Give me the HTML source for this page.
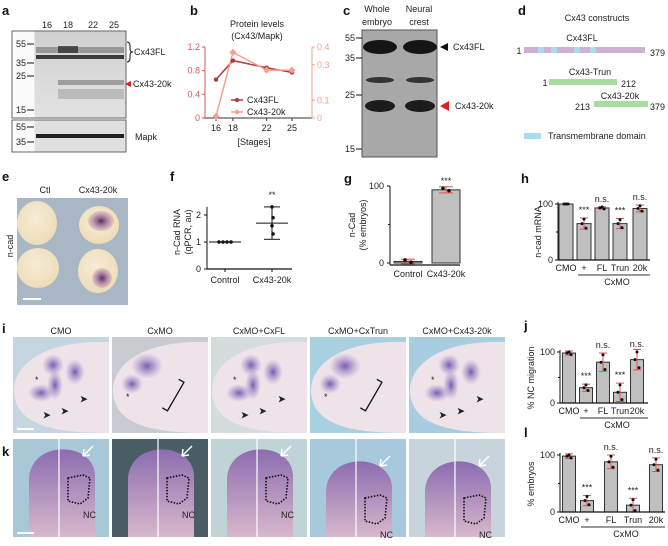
<!DOCTYPE html>
<html><head><meta charset="utf-8"><style>
body{margin:0;background:#fff}
svg{display:block;font-family:"Liberation Sans",sans-serif}
.t{font-size:9px;fill:#222}
.lb{font-size:13px;font-weight:bold;fill:#111}
</style></head><body>
<svg id="fig" width="668" height="546" viewBox="0 0 668 546">
<defs>
<linearGradient id="blotg" x1="0" y1="0" x2="0" y2="1"><stop offset="0" stop-color="#d0d0d0"/><stop offset="1" stop-color="#e2e2e2"/></linearGradient>
<radialGradient id="emb" cx="0.45" cy="0.4" r="0.6"><stop offset="0" stop-color="#f7ecd6"/><stop offset="1" stop-color="#eddcb8"/></radialGradient>
<radialGradient id="purp" cx="0.5" cy="0.5" r="0.5"><stop offset="0" stop-color="#5a2a6a"/><stop offset="1" stop-color="#a0609a" stop-opacity="0.2"/></radialGradient>
<radialGradient id="blob" cx="0.5" cy="0.5" r="0.5"><stop offset="0" stop-color="#7a5cb0"/><stop offset="1" stop-color="#9a86c8" stop-opacity="0"/></radialGradient>
<linearGradient id="kemb" x1="0" y1="0" x2="0" y2="1"><stop offset="0" stop-color="#8c6cb0"/><stop offset="1" stop-color="#d8b8cc"/></linearGradient>
</defs>

<g>
<text class="lb" x="2" y="15">a</text>
<text class="t" x="47" y="28" text-anchor="middle">16</text>
<text class="t" x="68" y="28" text-anchor="middle">18</text>
<text class="t" x="93" y="28" text-anchor="middle">22</text>
<text class="t" x="114" y="28" text-anchor="middle">25</text>
<rect x="12" y="31" width="114" height="87" fill="url(#blotg)" stroke="#666"/>
<rect x="12.5" y="31.5" width="22" height="86" fill="#fafafa"/>
<rect x="36" y="47" width="88" height="6" fill="#707070" opacity="0.6"/>
<rect x="58" y="46" width="20" height="7" fill="#222" opacity="0.7"/>
<rect x="36" y="55" width="88" height="4" fill="#222" opacity="0.85"/>
<rect x="58" y="80" width="66" height="5" fill="#777" opacity="0.6"/>
<rect x="58" y="89" width="66" height="10" fill="#999" opacity="0.5"/>
<g class="t" font-size="8"><text x="16" y="47">55</text><text x="16" y="66">35</text><text x="16" y="79">25</text><text x="16" y="113">15</text></g>
<path d="M27 44h7M27 63h7M27 76h7M27 110h7" stroke="#111"/>
<path d="M127 42q3 0 3 4v3q0 3 3 3q-3 0-3 3v3q0 4-3 4" fill="none" stroke="#111"/>
<text class="t" x="134" y="55">Cx43FL</text>
<path d="M131 81l-6 3 6 3z" fill="#e02020"/>
<text class="t" x="133" y="87">Cx43-20k</text>
<rect x="12" y="120" width="114" height="32" fill="#e0e0e0" stroke="#666"/>
<rect x="12.5" y="120.5" width="22" height="31" fill="#fafafa"/>
<rect x="36" y="134" width="88" height="4" fill="#222"/>
<g class="t" font-size="8"><text x="16" y="130">55</text><text x="16" y="145">35</text></g>
<path d="M27 127h7M27 142h7" stroke="#111"/>
<text class="t" x="135" y="140">Mapk</text>
</g>

<g id="chartB">
<text class="lb" x="190" y="15">b</text>
<text class="t" x="257" y="27" text-anchor="middle">Protein levels</text>
<text class="t" x="257" y="39" text-anchor="middle">(Cx43/Mapk)</text>
<text class="t" x="254" y="145" text-anchor="middle">[Stages]</text>
</g>

<g>
<text class="lb" x="343" y="15">c</text>
<text class="t" x="377" y="12" text-anchor="middle">Whole</text>
<text class="t" x="377" y="25" text-anchor="middle">embryo</text>
<text class="t" x="419" y="12" text-anchor="middle">Neural</text>
<text class="t" x="419" y="25" text-anchor="middle">crest</text>
<rect x="362" y="30" width="75" height="127" fill="#a8a8a8" stroke="#555"/>
<ellipse cx="380" cy="47" rx="17" ry="7" fill="#151515"/>
<ellipse cx="420" cy="47" rx="17" ry="7" fill="#151515"/>
<ellipse cx="380" cy="80" rx="14" ry="3" fill="#333"/>
<ellipse cx="420" cy="80" rx="14" ry="3" fill="#333"/>
<ellipse cx="380" cy="106" rx="15" ry="6" fill="#1c1c1c"/>
<ellipse cx="420" cy="106" rx="15" ry="6" fill="#1c1c1c"/>
<g class="t" font-size="8"><text x="345" y="41">55</text><text x="345" y="61">35</text><text x="345" y="98">25</text><text x="345" y="152">15</text></g>
<path d="M356 38h6M356 58h6M356 95h6M356 149h6" stroke="#111"/>
<path d="M448 43l-8 4 8 4z" fill="#111"/>
<text class="t" x="453" y="50">Cx43FL</text>
<path d="M449 101l-9 5 9 5z" fill="#e02020"/>
<text class="t" x="455" y="109">Cx43-20k</text>
</g>

<g>
<text class="lb" x="518" y="15">d</text>
<text class="t" x="597" y="21" text-anchor="middle">Cx43 constructs</text>
<text class="t" x="582" y="41" text-anchor="middle">Cx43FL</text>
<rect x="524" y="47" width="121" height="6" fill="#cfb0d4"/>
<rect x="538" y="47" width="6" height="6" fill="#a8dcef"/><rect x="551" y="47" width="6" height="6" fill="#a8dcef"/><rect x="574" y="47" width="6" height="6" fill="#a8dcef"/><rect x="590" y="47" width="6" height="6" fill="#a8dcef"/>
<text class="t" x="519" y="54" text-anchor="middle">1</text><text class="t" x="650" y="56">379</text>
<text class="t" x="590" y="75" text-anchor="middle">Cx43-Trun</text>
<rect x="549" y="79" width="68" height="6" fill="#a8dca0"/>
<text class="t" x="545" y="86" text-anchor="middle">1</text><text class="t" x="621" y="87">212</text>
<text class="t" x="620" y="99" text-anchor="middle">Cx43-20k</text>
<rect x="594" y="101" width="54" height="6" fill="#a8dca0"/>
<text class="t" x="575" y="110">213</text><text class="t" x="650" y="110">379</text>
<rect x="524" y="133" width="17" height="6" fill="#a8dcef"/>
<text class="t" x="548" y="139">Transmembrane  domain</text>
</g>

<g>
<text class="lb" x="2" y="181">e</text>
<text class="t" x="45" y="193" text-anchor="middle">Ctl</text>
<text class="t" x="98" y="193" text-anchor="middle">Cx43-20k</text>
<text class="t" x="0" y="0" transform="translate(13,246) rotate(-90)" text-anchor="middle">n-cad</text>
<rect x="17" y="198" width="111" height="107" fill="#a9b6c4"/>
<ellipse cx="37" cy="223" rx="20" ry="22" fill="url(#emb)"/>
<ellipse cx="99" cy="225" rx="20" ry="19" fill="url(#emb)"/>
<ellipse cx="101" cy="221" rx="13" ry="10" fill="url(#purp)"/>
<ellipse cx="38" cy="268" rx="21" ry="20" fill="url(#emb)"/>
<ellipse cx="98" cy="271" rx="20" ry="22" fill="url(#emb)"/>
<ellipse cx="102" cy="278" rx="10" ry="10" fill="url(#purp)"/>
<rect x="23" y="298" width="18" height="2" fill="#fff"/>
</g>

<g id="chartF">
<text class="lb" x="170" y="181">f</text>
<text class="t" x="0" y="0" transform="translate(180,232) rotate(-90)" text-anchor="middle">n-Cad RNA</text>
<text class="t" x="0" y="0" transform="translate(191,232) rotate(-90)" text-anchor="middle">(qPCR, au)</text>
</g>

<g id="chartG">
<text class="lb" x="344" y="183">g</text>
<text class="t" x="0" y="0" transform="translate(355,225) rotate(-90)" text-anchor="middle">n-Cad</text>
<text class="t" x="0" y="0" transform="translate(366,225) rotate(-90)" text-anchor="middle">(% embryos)</text>
</g>

<g id="chartH">
<text class="lb" x="521" y="183">h</text>
<text class="t" x="0" y="0" transform="translate(541,232) rotate(-90)" text-anchor="middle">n-cad mRNA</text>
</g>

<g id="panelI">
<text class="lb" x="2" y="333">i</text>
</g>
<g id="panelK">
<text class="lb" x="2" y="456">k</text>
</g>

<g id="chartJ">
<text class="lb" x="524" y="330">j</text>
<text class="t" x="0" y="0" transform="translate(534,378) rotate(-90)" text-anchor="middle">% NC migration</text>
</g>
<g id="chartL">
<text class="lb" x="524" y="437">l</text>
<text class="t" x="0" y="0" transform="translate(534,484) rotate(-90)" text-anchor="middle">% embryos</text>
</g>
</svg>
<script>
const NS="http://www.w3.org/2000/svg";
function mk(parent,tag,attrs,txt){const e=document.createElementNS(NS,tag);for(const k in attrs)e.setAttribute(k,attrs[k]);if(txt!==undefined)e.textContent=txt;parent.appendChild(e);return e;}

const bStages=[16,18,22,25];
const bFL=[0.65,0.97,0.85,0.77];
const b20k=[0.01,0.37,0.27,0.27];
const bLeftTicks=[0,0.4,0.8,1.2];
const bRightTicks=[0,0.1,0.3,0.4];
const fCats=["Control","Cx43-20k"];
const fCtrl=[1,1,1,1];
const f20k=[2.3,1.9,1.6,1.3];
const fMean=[1,1.7];
const fErr=[0,0.6];
const fTicks=[0,1,2];
const gCats=["Control","Cx43-20k"];
const gVals=[2,95];
const gErr=[3,4];
const gTicks=[0,100];
const hCats=["CMO","+","FL","Trun","20k"];
const hVals=[100,65,93,65,92];
const hErr=[0,10,2,9,6];
const hSig=["","***","n.s.","***","n.s."];
const jCats=["CMO","+","FL","Trun","20k"];
const jVals=[98,30,80,21,85];
const jErr=[4,7,18,18,20];
const jSig=["","***","n.s.","***","n.s."];
const lCats=["CMO","+","FL","Trun","20k"];
const lVals=[98,20,88,12,83];
const lErr=[4,9,12,12,12];
const lSig=["","***","n.s.","***","n.s."];

(function(){
const g=document.getElementById('chartB');
const x0=205,x1=312,y0=118,y1=47;
const xs=s=>216+(s-16)*(292-216)/9;
const yl=v=>y0-(v/1.2)*(y0-y1);
const yr=v=>y0-(v/0.4)*(y0-y1);
const cL="#d0595c",cR="#f2a090",cFL="#b3363b",c20="#f4a08e";
mk(g,'line',{x1:x0,y1:y0,x2:x1,y2:y0,stroke:'#333'});
mk(g,'line',{x1:x0,y1:y1,x2:x0,y2:y0,stroke:cL});
mk(g,'line',{x1:x1,y1:y1,x2:x1,y2:y0,stroke:cR});
bLeftTicks.forEach(v=>{mk(g,'line',{x1:x0-3,y1:yl(v),x2:x0,y2:yl(v),stroke:cL});const t=mk(g,'text',{x:x0-5,y:yl(v)+3,'text-anchor':'end',class:'t',style:'fill:'+cL},v);

});
bRightTicks.forEach(v=>{mk(g,'line',{x1:x1,y1:yr(v),x2:x1+3,y2:yr(v),stroke:cR});const t=mk(g,'text',{x:x1+5,y:yr(v)+3,class:'t',style:'fill:'+cR},v);

});
bStages.forEach(s=>{mk(g,'line',{x1:xs(s),y1:y0,x2:xs(s),y2:y0+3,stroke:'#333'});mk(g,'text',{x:xs(s),y:y0+13,'text-anchor':'middle',class:'t'},s);});
const pl=mk(g,'polyline',{points:bStages.map((s,i)=>xs(s)+','+yl(bFL[i])).join(' '),fill:'none',stroke:cFL,'stroke-width':1.5});


const pr=mk(g,'polyline',{points:bStages.map((s,i)=>xs(s)+','+yr(b20k[i])).join(' '),fill:'none',stroke:c20,'stroke-width':1.5});


bStages.forEach((s,i)=>{const p=mk(g,'circle',{cx:xs(s),cy:yl(bFL[i]),r:2.2,fill:cFL});


const q=mk(g,'rect',{x:xs(s)-2.5,y:yr(b20k[i])-2.5,width:5,height:5,fill:c20,transform:`rotate(45 ${xs(s)} ${yr(b20k[i])})`});

});
mk(g,'line',{x1:231,y1:100,x2:243,y2:100,stroke:cFL,'stroke-width':1.5});mk(g,'circle',{cx:237,cy:100,r:2,fill:cFL});
mk(g,'text',{x:247,y:103,class:'t'},'Cx43FL');
mk(g,'line',{x1:231,y1:112,x2:243,y2:112,stroke:c20,'stroke-width':1.5});mk(g,'rect',{x:235,y:110,width:4,height:4,fill:c20,transform:'rotate(45 237 112)'});
mk(g,'text',{x:247,y:115,class:'t'},'Cx43-20k');
})();

(function(){
const g=document.getElementById('chartF');
const x0=207,x1=292,y0=269,yTop=215;
const y=v=>y0-v*(y0-yTop)/2;
const xc=[225,272];
mk(g,'line',{x1:x0,y1:y0,x2:x1,y2:y0,stroke:'#111','stroke-width':1.2});
mk(g,'line',{x1:x0,y1:y(2.3),x2:x0,y2:y0,stroke:'#111'});
fTicks.forEach(v=>{mk(g,'line',{x1:x0-3,y1:y(v),x2:x0,y2:y(v),stroke:'#111'});mk(g,'text',{x:x0-6,y:y(v)+3,'text-anchor':'end',class:'t'},v);});
fCats.forEach((c,i)=>{mk(g,'line',{x1:xc[i],y1:y0,x2:xc[i],y2:y0+3,stroke:'#111'});mk(g,'text',{x:xc[i],y:y0+14,'text-anchor':'middle',class:'t'},c);});
[fCtrl,f20k].forEach((arr,i)=>{
 arr.forEach((v,j)=>{const d=mk(g,'circle',{cx:i==0?xc[i]-6+j*4:xc[i]+(j%2?1:0),cy:y(v),r:1.8,fill:'#111'});
 
 });
 mk(g,'line',{x1:xc[i]-16,y1:y(fMean[i]),x2:xc[i]+16,y2:y(fMean[i]),stroke:'#111'});
 if(fErr[i]>0){mk(g,'line',{x1:xc[i],y1:y(fMean[i]-fErr[i]),x2:xc[i],y2:y(fMean[i]+fErr[i]),stroke:'#111'});
 [fMean[i]-fErr[i],fMean[i]+fErr[i]].forEach(v=>mk(g,'line',{x1:xc[i]-8,y1:y(v),x2:xc[i]+8,y2:y(v),stroke:'#111'}));}
});
mk(g,'text',{x:272,y:198,'text-anchor':'middle',class:'t'},'**');
})();

(function(){
const g=document.getElementById('chartG');
const x0=390,x1=460,y0=263,yTop=186;
const y=v=>y0-v*(y0-yTop)/100;
const xc=[408,446],bw=28;
gVals.forEach((v,i)=>{const r=mk(g,'rect',{x:xc[i]-bw/2,y:y(v),width:bw,height:y0-y(v),fill:'#c0c0c0',stroke:'#333'});
 
 
 mk(g,'line',{x1:xc[i],y1:y(v-gErr[i]),x2:xc[i],y2:y(v+gErr[i]),stroke:'#e05050'});
 [v-gErr[i],v+gErr[i]].forEach(w=>mk(g,'line',{x1:xc[i]-7,y1:y(w),x2:xc[i]+7,y2:y(w),stroke:'#e05050'}));
 mk(g,'circle',{cx:xc[i]-3,cy:y(v+2),r:1.8,fill:'#111'});mk(g,'circle',{cx:xc[i]+3,cy:y(v-1),r:1.8,fill:'#111'});
 mk(g,'text',{x:xc[i],y:y0+14,'text-anchor':'middle',class:'t'},gCats[i]);});
mk(g,'line',{x1:x0,y1:y0+2,x2:x1,y2:y0+2,stroke:'#111','stroke-width':1.2});
mk(g,'line',{x1:x0,y1:yTop,x2:x0,y2:y0+2,stroke:'#111'});
gTicks.forEach(v=>{mk(g,'line',{x1:x0-3,y1:y(v),x2:x0,y2:y(v),stroke:'#111'});mk(g,'text',{x:x0-6,y:y(v)+3,'text-anchor':'end',class:'t'},v);});
mk(g,'line',{x1:x0-2,y1:y(50),x2:x0,y2:y(50),stroke:'#111'});
mk(g,'text',{x:446,y:184,'text-anchor':'middle',class:'t','font-size':'7'},'***');
})();

function barChart(id,cats,vals,errs,sig,x0,xc,bw,y0,yTop,xEnd){
 const g=document.getElementById(id);
 const y=v=>y0-v*(y0-yTop)/100;
 const labY=y0+11;
 vals.forEach((v,i)=>{const r=mk(g,'rect',{x:xc[i]-bw/2,y:y(v),width:bw,height:y0-y(v),fill:'#c0c0c0',stroke:'#333'});
  
  
  if(errs[i]>0){mk(g,'line',{x1:xc[i],y1:y(v-errs[i]),x2:xc[i],y2:y(v+errs[i]),stroke:'#e05050'});
  [v-errs[i],v+errs[i]].forEach(w=>mk(g,'line',{x1:xc[i]-4,y1:y(w),x2:xc[i]+4,y2:y(w),stroke:'#e05050'}));}
  mk(g,'circle',{cx:xc[i],cy:y(Math.min(100,v+errs[i]*0.8)),r:1.5,fill:'#111'});
  mk(g,'circle',{cx:xc[i]-2,cy:y(v),r:1.5,fill:'#111'});
  mk(g,'circle',{cx:xc[i]+2,cy:y(Math.max(0,v-errs[i]*0.8)),r:1.5,fill:'#111'});
  if(sig[i])mk(g,'text',{x:xc[i],y:y(Math.min(100,v+errs[i]))-5,'text-anchor':'middle',class:'t','font-size':sig[i]=='***'?'7':'8'},sig[i]);
  mk(g,'text',{x:xc[i],y:labY,'text-anchor':'middle',class:'t'},cats[i]);
 });
 mk(g,'line',{x1:x0,y1:y0,x2:xEnd,y2:y0,stroke:'#111','stroke-width':1.2});
 mk(g,'line',{x1:x0,y1:yTop-2,x2:x0,y2:y0,stroke:'#111'});
 [0,100].forEach(v=>{mk(g,'line',{x1:x0-3,y1:y(v),x2:x0,y2:y(v),stroke:'#111'});mk(g,'text',{x:x0-5,y:y(v)+3,'text-anchor':'end',class:'t'},v);});
 mk(g,'line',{x1:x0-2,y1:y(50),x2:x0,y2:y(50),stroke:'#111'});
 mk(g,'line',{x1:xc[1]-6,y1:labY+4,x2:xEnd,y2:labY+4,stroke:'#333'});
 mk(g,'text',{x:(xc[1]+xEnd)/2,y:labY+14,'text-anchor':'middle',class:'t'},'CxMO');
}
barChart('chartH',hCats,hVals,hErr,hSig,558,[566,584,602,620,640],14,260,204,650);
barChart('chartJ',jCats,jVals,jErr,jSig,560,[569,586,603,620,637],13,403,352,648);
barChart('chartL',lCats,lVals,lErr,lSig,560,[569,587,611,633,656],13,512,455,665);

(function(){
const g=document.getElementById('panelI');
const xs=[13,112,211,310,409],w=96;
const titles=["CMO","CxMO","CxMO+CxFL","CxMO+CxTrun","CxMO+Cx43-20k"];
const bgs=["#c4d6e0","#c8ccd2","#d4dcdc","#a8d0e0","#a8cce0"];
titles.forEach((t,i)=>{
 const x=xs[i];
 mk(g,'text',{x:x+w/2,y:334,'text-anchor':'middle',class:'t'},t);
 const r=mk(g,'rect',{x:x,y:337,width:w,height:96,fill:bgs[i]});
 
 
 mk(g,'path',{d:`M${x+w} 342C${x+30} 340 ${x} 365 ${x+1} 392C${x+3} 425 ${x+40} 433 ${x+w} 433Z`,fill:'#efe3ea'});
 if(i==1||i==3){mk(g,'ellipse',{cx:x+35,cy:366,rx:16,ry:13,fill:'url(#blob)'});mk(g,'ellipse',{cx:x+20,cy:384,rx:11,ry:10,fill:'url(#blob)'});
  mk(g,'path',{d:`M${x+58} ${378}h6v33h-6`,fill:'none',stroke:'#111','stroke-width':1.3,transform:`rotate(30 ${x+60} ${395})`});
  mk(g,'text',{x:x+14,y:400,class:'t','font-size':'12'},'*');}
 else{[[28,393,13,9],[42,385,8,15],[62,372,10,13],[40,365,11,11]].forEach(b=>mk(g,'ellipse',{cx:x+b[0],cy:b[1],rx:b[2],ry:b[3],fill:'url(#blob)'}));
  mk(g,'text',{x:x+22,y:383,class:'t','font-size':'12'},'*');
  [[30,418],[48,414],[67,402]].forEach(a=>mk(g,'text',{x:x+a[0],y:a[1],class:'t','font-size':'11','font-weight':'bold'},'➤'));}
});
mk(g,'rect',{x:17,y:428,width:17,height:2,fill:'#fff'});
})();

(function(){
const g=document.getElementById('panelK');
const xs=[13,112,211,310,409],w=96;
const bgs=["#a8c8d8","#4a5c64","#c0d4d8","#a8c8dc","#c8d4dc"];
xs.forEach((x,i)=>{
 const r=mk(g,'rect',{x:x,y:439,width:w,height:98,fill:bgs[i]});
 
 
 const top=i>=3?462:450;
 mk(g,'path',{d:`M${x+16} 537V${top+30}C${x+16} ${top-10} ${x+80} ${top-10} ${x+82} ${top+25}V537Z`,fill:'url(#kemb)'});
 mk(g,'line',{x1:x+46,y1:439,x2:x+46,y2:537,stroke:'#fff','stroke-width':1.2});
 const dy=i>=3?20:0;
 mk(g,'path',{d:`M${x+55} ${478+dy}l15 -3l7 3l-2 20l-8 6l-12 -3z`,fill:'none',stroke:'#111','stroke-width':1.6,'stroke-dasharray':'1.5 1.5'});
 mk(g,'text',{x:x+70,y:518+dy,class:'t'},'NC');
 mk(g,'path',{d:`M${x+80} ${446+dy*0.5}l-10 10m0 0l1 -7m-1 7l7 -1`,fill:'none',stroke:'#fff','stroke-width':1.5});
});
mk(g,'rect',{x:17,y:532,width:17,height:2,fill:'#fff'});
})();
</script>
</body></html>
